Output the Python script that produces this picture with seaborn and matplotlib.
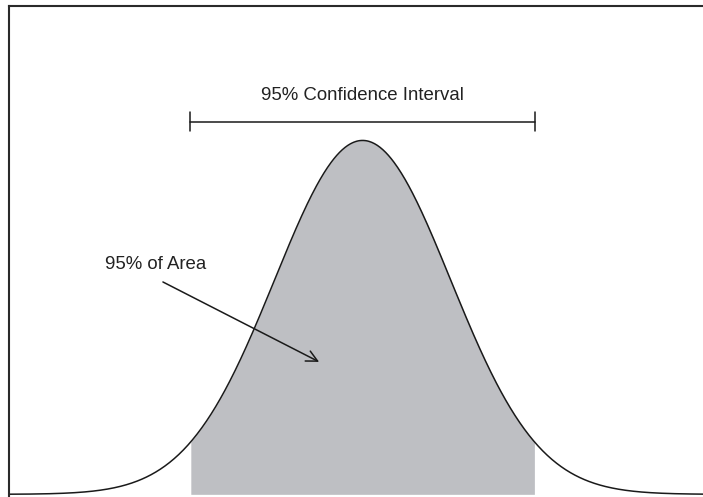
import numpy as np
import pandas as pd
import matplotlib
matplotlib.use("Agg")
import matplotlib.pyplot as plt
import seaborn as sns

# Diagram parameters
mean = 0.0
sd = 1.0
z_crit = 1.96
ci_label = "95% Confidence Interval"
area_label = "95% of Area"

x = np.linspace(-4.2, 4.2, 801)
pdf = np.exp(-0.5 * ((x - mean) / sd) ** 2) / (sd * np.sqrt(2 * np.pi))
df = pd.DataFrame({"x": x, "density": pdf})

sns.set_theme(style="white")
plt.rcParams['font.family'] = ['Liberation Sans', 'DejaVu Sans']

fig = plt.figure(figsize=(7.03, 4.97), dpi=100)
ax = fig.add_axes([9 / 703, 0.0, 1 - 9 / 703, 491 / 497])

lo, hi = mean - z_crit * sd, mean + z_crit * sd
mask = (df["x"] >= lo) & (df["x"] <= hi)
ax.fill_between(df["x"][mask], 0, df["density"][mask], color="#bebfc3", linewidth=0)
sns.lineplot(data=df, x="x", y="density", ax=ax, color="#1a1a1a", linewidth=1.1)

ax.set_xlim(-4.02, 3.87)
ax.set_ylim(-0.003, 0.5505)

# CI bar
ci_y = 0.4198
ax.plot([lo, hi], [ci_y, ci_y], color="#1a1a1a", linewidth=1.1)
for xe in (lo, hi):
    ax.plot([xe, xe], [ci_y - 0.0107, ci_y + 0.0107], color="#1a1a1a", linewidth=1.1)
ax.text(mean, 0.450, ci_label, ha="center", va="center", fontsize=13.4, color="#222222")

ax.text(-2.926, 0.2586, area_label, ha="left", va="center", fontsize=13.4, color="#222222")
ax.annotate("", xy=(-0.494, 0.1493), xytext=(-2.27, 0.2394),
            arrowprops=dict(arrowstyle="->", color="#1a1a1a", lw=1.1,
                            mutation_scale=20, shrinkA=0, shrinkB=0))

ax.set_xlabel("")
ax.set_ylabel("")
ax.set_xticks([])
ax.set_yticks([])
for side in ("right", "bottom"):
    ax.spines[side].set_visible(False)
for side in ("left", "top"):
    ax.spines[side].set_visible(True)
    ax.spines[side].set_color("#2a2a2a")
    ax.spines[side].set_linewidth(1.5)

fig.savefig("out.png", dpi=100)
